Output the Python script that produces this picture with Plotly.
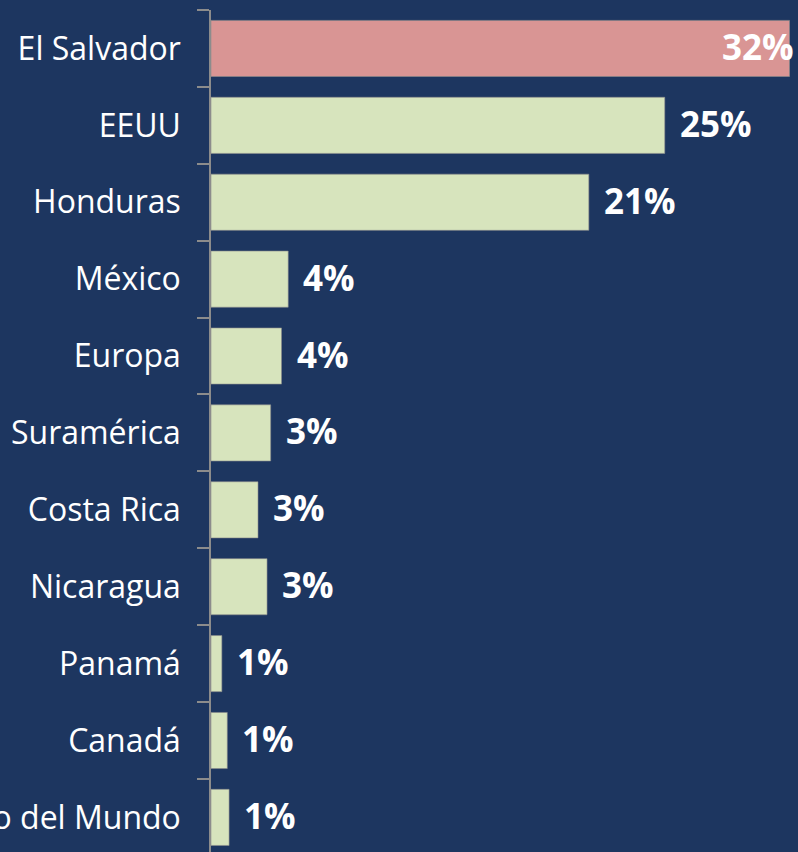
import plotly.graph_objects as go

categories = ["El Salvador", "EEUU", "Honduras", "México", "Europa", "Suramérica",
              "Costa Rica", "Nicaragua", "Panamá", "Canadá", "Resto del Mundo"]
values = [32.0, 25.1, 20.9, 4.27, 3.9, 3.3, 2.6, 3.1, 0.6, 0.9, 1.0]
labels = ["32%", "25%", "21%", "4%", "4%", "3%", "3%", "3%", "1%", "1%", "1%"]
highlight = "El Salvador"

BG = "#1D3660"
PINK = "#D99594"
GREEN = "#D7E4BD"
GRAY = "#8C8C8C"

colors = [PINK if c == highlight else GREEN for c in categories]

fig = go.Figure()
fig.add_trace(go.Bar(
    x=values, y=categories, orientation="h",
    marker=dict(color=colors, line=dict(color="rgba(140,140,140,0.6)", width=1)),
    hoverinfo="skip",
))

for c, v, t in zip(categories, values, labels):
    if c == highlight:
        fig.add_annotation(x=v, y=c, text=f"<b>{t}</b>", showarrow=False,
                           xanchor="right", xshift=6, yshift=2,
                           font=dict(family="Open Sans", size=35, color="white"))
    else:
        fig.add_annotation(x=v, y=c, text=f"<b>{t}</b>", showarrow=False,
                           xanchor="left", xshift=13, yshift=2,
                           font=dict(family="Open Sans", size=35, color="white"))

fig.update_layout(
    template="none",
    width=798, height=852,
    margin=dict(l=211, r=0, t=10, b=0),
    paper_bgcolor=BG, plot_bgcolor=BG,
    bargap=0.27,
    showlegend=False,
    xaxis=dict(range=[0, 32.47], showgrid=False, zeroline=False, showticklabels=False,
               showline=False, ticks="", automargin=False),
    yaxis=dict(type="category", range=[10.45, -0.5], showgrid=False, zeroline=False,
               showline=True, linecolor=GRAY, linewidth=1.5,
               ticks="outside", tickson="boundaries", ticklen=12, tickcolor=GRAY, tickwidth=1.5,
               ticklabelstandoff=22, automargin=False,
               tickfont=dict(family="Open Sans", size=32, color="white")),
)

fig.write_html("out.html",
               config={"displayModeBar": False},
               post_script="document.body.style.margin='0';document.body.style.overflow='hidden';document.body.style.background='#1D3660';")
